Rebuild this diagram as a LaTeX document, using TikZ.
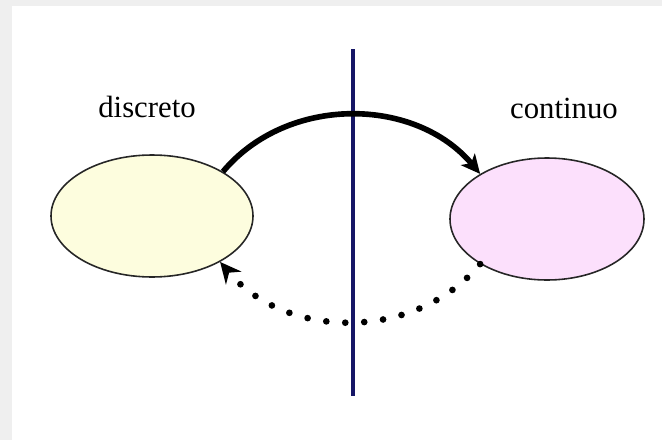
\documentclass[tikz,border=0pt]{standalone}
\usepackage{fontspec}
\setmainfont{Liberation Serif}
\usetikzlibrary{arrows.meta,shapes.geometric}

\definecolor{fondo}{RGB}{239,239,239}
\definecolor{amarillo}{RGB}{253,253,222}
\definecolor{rosa}{RGB}{252,224,252}
\definecolor{azul}{RGB}{22,22,102}

\tikzset{
    estado/.style={ellipse, draw=black!85, line width=0.9pt, inner sep=0pt,
                   minimum height=2.44cm},
    etiqueta/.style={anchor=base, font=\fontsize{17.5}{20}\selectfont},
    ida/.style={line width=3.2pt, -{Stealth[length=0.38cm, width=0.36cm, inset=0.1cm]}},
    vuelta/.style={line width=3.8pt, line cap=round, dash pattern=on 0pt off 0.38cm,
                   -{Stealth[length=0.42cm, width=0.4cm, inset=0.14cm]}}
}

\begin{document}
\begin{tikzpicture}

% ═══════════════════════════════════════════════════════
% FONDO
% ═══════════════════════════════════════════════════════

\fill[fondo] (0,0) rectangle (13.24,-8.8);
\fill[white] (0.24,-0.12) rectangle (13.24,-8.8);

% ═══════════════════════════════════════════════════════
% LINEA DIVISORIA
% ═══════════════════════════════════════════════════════

\coordinate (arriba) at (7.06,-0.98);
\coordinate (abajo) at (7.06,-7.92);
\draw[azul, line width=1.8pt] (arriba) -- (abajo);

% ═══════════════════════════════════════════════════════
% ESTADOS
% ═══════════════════════════════════════════════════════

% discreto
\node[estado, fill=amarillo, minimum width=4.04cm] (disc) at (3.04,-4.32) {};
\node[etiqueta] (discLbl) at (2.94,-2.34) {discreto};

% continuo
\node[estado, fill=rosa, minimum width=3.88cm] (cont) at (10.94,-4.38) {};
\node[etiqueta] (contLbl) at (11.28,-2.36) {continuo};

% ═══════════════════════════════════════════════════════
% TRANSICIONES
% ═══════════════════════════════════════════════════════

% discreto → continuo
\draw[ida] (disc.32) to[out=50, in=130] (cont.146);

% continuo → discreto (punteada)
\draw[vuelta] (cont.214) to[out=230, in=310] (disc.-34);

\end{tikzpicture}
\end{document}
